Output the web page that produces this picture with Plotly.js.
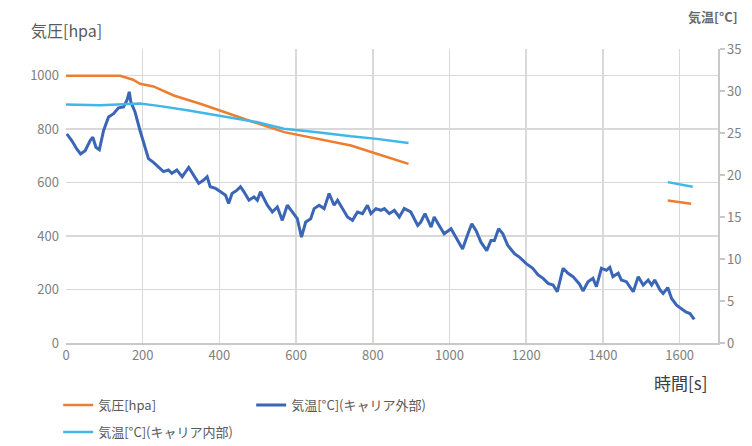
<!DOCTYPE html>
<html>
<head>
<meta charset="utf-8">
<script src="https://cdn.plot.ly/plotly-3.0.1.min.js"></script>
<style>html,body{margin:0;padding:0;background:#fff;}#chart{width:752px;height:446px;}</style>
</head>
<body>
<div id="chart"></div>
<script>
// 気圧 [hpa] (left axis)
const pressureTime = [0, 141, 175, 193, 228, 281, 350, 437, 490, 569, 655, 743, 810, 893, null, 1569, 1630];
const pressureVal  = [1000, 1000, 985, 970, 960, 926, 895, 851, 826, 789, 764, 739, 708, 670, null, 533, 521];

// 気温 [°C] キャリア内部 (right axis)
const innerTime = [0, 89, 193, 246, 316, 394, 497, 568, 655, 743, 810, 893, null, 1569, 1634];
const innerTemp = [28.4, 28.3, 28.5, 28.2, 27.7, 27.1, 26.3, 25.5, 25.1, 24.6, 24.3, 23.8, null, 19.15, 18.6];

// 気温 [°C] キャリア外部 (right axis)
const outerTime = [2,15,28,38,50,63,70,78,87,98,111,124,137,150,159,165,169,180,193,207,215,228,241,254,267,276,289,303,320,333,346,359,368,376,390,403,416,424,433,446,455,464,477,490,499,507,516,525,538,551,564,577,590,603,614,625,638,647,660,673,686,699,708,721,734,747,760,773,786,795,808,821,830,843,856,869,882,899,917,925,936,952,960,973,986,1004,1017,1034,1048,1058,1069,1082,1097,1108,1117,1128,1139,1152,1170,1183,1200,1217,1231,1244,1257,1270,1281,1296,1309,1322,1339,1348,1361,1374,1383,1396,1409,1418,1426,1440,1448,1461,1479,1492,1505,1518,1527,1535,1549,1557,1569,1579,1592,1605,1616,1627,1638];
const outerTemp = [24.9,24.1,23.1,22.5,22.9,24.1,24.5,23.3,23.0,25.3,26.9,27.3,28.0,28.1,28.9,29.9,28.7,27.5,25.3,23.3,21.95,21.5,20.9,20.4,20.6,20.2,20.6,19.8,20.9,20.0,19.0,19.4,19.8,18.6,18.4,18.0,17.6,16.6,17.8,18.2,18.6,18.0,17.0,17.4,17.0,18.0,17.2,16.4,15.6,16.2,14.6,16.4,15.6,14.8,12.6,14.4,14.8,16.0,16.4,16.0,17.8,16.4,17.0,16.0,15.0,14.6,15.6,15.4,16.4,15.4,16.0,15.8,16.0,15.4,15.8,15.0,16.0,15.6,14.0,14.4,15.4,13.8,15.0,14.0,13.0,13.6,12.6,11.2,13.0,14.2,13.4,12.0,11.0,12.2,12.2,13.6,13.0,11.6,10.6,10.2,9.45,8.9,8.1,7.7,7.1,6.9,6.1,8.9,8.3,7.9,7.0,6.2,7.3,7.7,6.7,8.9,8.65,9.0,7.9,8.3,7.5,7.3,6.1,7.9,6.9,7.5,6.9,7.5,6.3,5.9,6.6,5.3,4.5,4.1,3.7,3.5,2.8];

const xTicks = [0, 200, 400, 600, 800, 1000, 1200, 1400, 1600];
const leftTicks = [0, 200, 400, 600, 800, 1000];
const rightTicks = [0, 5, 10, 15, 20, 25, 30, 35];

const FONT = '"Noto Sans CJK JP", "Noto Sans", sans-serif';
const GRID = '#d9d9d9';
const TICKC = '#7f7f7f';

const traces = [
  {x: pressureTime, y: pressureVal, name: '気圧[hpa]', type: 'scatter', mode: 'lines',
   line: {color: '#ed7d31', width: 2.5}, yaxis: 'y', connectgaps: false, legend: 'legend'},
  {x: outerTime, y: outerTemp, name: '気温[°C](キャリア外部)', type: 'scatter', mode: 'lines',
   line: {color: '#3b66b5', width: 3}, yaxis: 'y2', legend: 'legend'},
  {x: innerTime, y: innerTemp, name: '気温[°C](キャリア内部)', type: 'scatter', mode: 'lines',
   line: {color: '#41b6e8', width: 2.5}, yaxis: 'y2', connectgaps: false, legend: 'legend2'}
];

const legendFont = {family: FONT, size: 13, color: '#595959'};

const layout = {
  width: 752, height: 446,
  margin: {l: 66, r: 34, t: 49, b: 103, autoexpand: false},
  paper_bgcolor: '#fff', plot_bgcolor: '#fff',
  font: {family: FONT, color: TICKC},
  showlegend: true,
  xaxis: {
    range: [0, 1700], tickvals: xTicks, ticktext: xTicks.map(String),
    showgrid: true, gridcolor: GRID, gridwidth: 1.5, zeroline: false,
    showline: true, linecolor: '#c8c8c8', linewidth: 1.5, ticks: '',
    tickfont: {family: FONT, size: 13, color: TICKC}
  },
  yaxis: {
    range: [0, 1100], tickvals: leftTicks, ticktext: leftTicks.map(String),
    showgrid: true, gridcolor: GRID, gridwidth: 1.5, zeroline: false,
    showline: false, ticks: '', ticklabelstandoff: 6,
    tickfont: {family: FONT, size: 13, color: TICKC}
  },
  yaxis2: {
    range: [0, 35], tickvals: rightTicks, ticktext: rightTicks.map(String),
    overlaying: 'y', side: 'right', showgrid: false, zeroline: false,
    showline: true, linecolor: '#c8c8c8', linewidth: 1.5,
    ticks: 'outside', ticklen: 5, tickcolor: '#c8c8c8', tickwidth: 1.5,
    tickfont: {family: FONT, size: 13, color: TICKC}
  },
  legend: {
    orientation: 'h', x: -0.012, xanchor: 'left', y: -0.16, yanchor: 'top',
    entrywidth: 148, entrywidthmode: 'pixels', font: legendFont,
    bgcolor: 'rgba(0,0,0,0)', traceorder: 'normal'
  },
  legend2: {
    orientation: 'h', x: -0.012, xanchor: 'left', y: -0.252, yanchor: 'top',
    font: legendFont, bgcolor: 'rgba(0,0,0,0)'
  },
  annotations: [
    {text: '気圧[hpa]', xref: 'paper', yref: 'paper', x: 0, y: 1.065, xanchor: 'center', yanchor: 'middle',
     showarrow: false, font: {family: FONT, size: 16, color: '#595959'}},
    {text: '<b>気温[°C]</b>', xref: 'paper', yref: 'paper', x: 0.992, y: 1.109, xanchor: 'center', yanchor: 'middle',
     showarrow: false, font: {family: FONT, size: 13, color: '#6a6a6a'}},
    {text: '時間[s]', xref: 'paper', yref: 'paper', x: 0.942, y: -0.136, xanchor: 'center', yanchor: 'middle',
     showarrow: false, font: {family: FONT, size: 17, color: '#404040'}}
  ]
};

Plotly.newPlot('chart', traces, layout, {displayModeBar: false, staticPlot: true});
</script>
</body>
</html>
